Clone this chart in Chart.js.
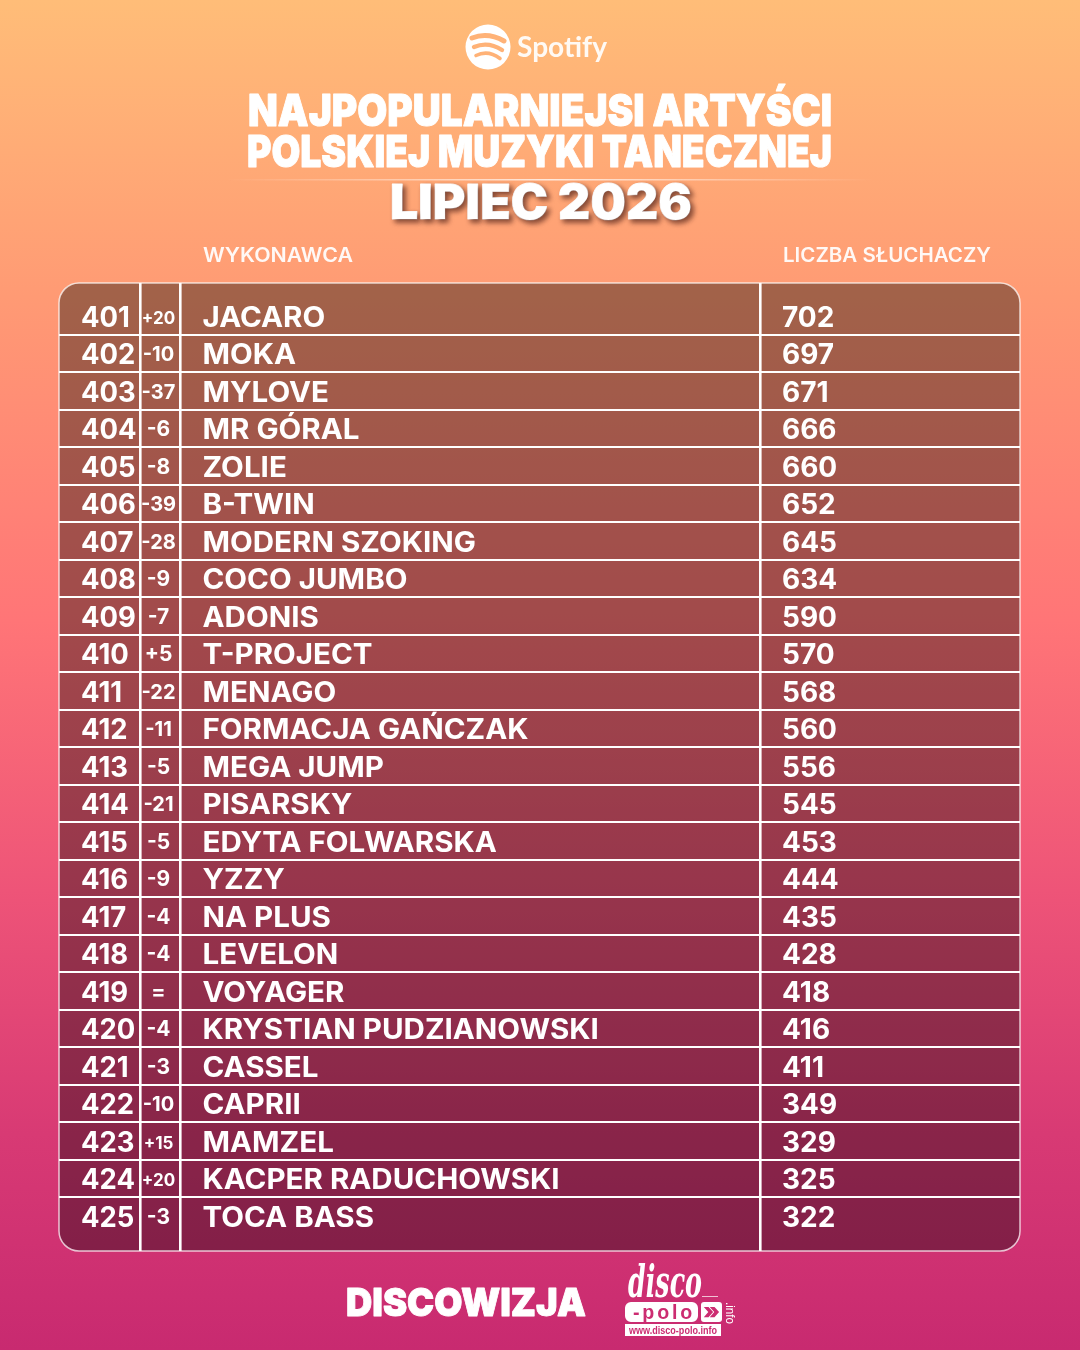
<!DOCTYPE html>
<html lang="pl">
<head>
<meta charset="utf-8">
<title>Najpopularniejsi artyści polskiej muzyki tanecznej</title>
<script src="https://cdn.jsdelivr.net/npm/chart.js@4/dist/chart.umd.min.js"></script>
<style>
  html, body { margin: 0; padding: 0; }
  body {
    width: 1080px; height: 1350px; overflow: hidden;
    background: linear-gradient(180deg, #ffbd78 0%, #ff9a74 22%, #ff7577 46%, #ee5478 66%, #d83a74 84%, #c82a70 100%);
  }
  canvas { display: block; }
</style>
</head>
<body>
<canvas id="chart" width="1080" height="1350"></canvas>
<script>
// ===================================
// DATA
// ===================================
const ranks = [401, 402, 403, 404, 405, 406, 407, 408, 409, 410, 411, 412, 413, 414, 415, 416, 417, 418, 419, 420, 421, 422, 423, 424, 425];
const changes = ['+20', '-10', '-37', '-6', '-8', '-39', '-28', '-9', '-7', '+5', '-22', '-11', '-5', '-21', '-5', '-9', '-4', '-4', '=', '-4', '-3', '-10', '+15', '+20', '-3'];
const artists = ['JACARO', 'MOKA', 'MYLOVE', 'MR GÓRAL', 'ZOLIE', 'B-TWIN', 'MODERN SZOKING', 'COCO JUMBO', 'ADONIS', 'T-PROJECT', 'MENAGO', 'FORMACJA GAŃCZAK', 'MEGA JUMP', 'PISARSKY', 'EDYTA FOLWARSKA', 'YZZY', 'NA PLUS', 'LEVELON', 'VOYAGER', 'KRYSTIAN PUDZIANOWSKI', 'CASSEL', 'CAPRII', 'MAMZEL', 'KACPER RADUCHOWSKI', 'TOCA BASS'];
const listeners = [702, 697, 671, 666, 660, 652, 645, 634, 590, 570, 568, 560, 556, 545, 453, 444, 435, 428, 418, 416, 411, 349, 329, 325, 322];

// ===================================
// LAYOUT
// ===================================
const WHITE = '#ffffff';
const TABLE_FONT = 'Inter, sans-serif';
const COLUMN_RULES = [81, 121, 701];  // x scale values of the vertical rules
const COL_RANK = 22;
const COL_CHANGE = 99.5;
const COL_ARTIST = 143.5;
const COL_LISTENERS = 723;
// table font is wider in the original, its digits less so
const STRETCH_ARTIST = 1.055;
const STRETCH_RANK = 0.98;
const STRETCH_LISTENERS = 1.0;

// HELPER: text squeezed or stretched to an exact width
function fitText(ctx, text, x, baseline, width, font, heavy) {
  ctx.save();
  ctx.font = font;
  ctx.textAlign = 'left';
  ctx.textBaseline = 'alphabetic';
  const k = width / ctx.measureText(text).width;
  ctx.translate(x, baseline);
  ctx.scale(k, 1);
  if (heavy) {
    ctx.strokeStyle = ctx.fillStyle;
    ctx.lineWidth = heavy;
    ctx.lineJoin = 'round';
    ctx.strokeText(text, 0, 0);
  }
  ctx.fillText(text, 0, 0);
  ctx.restore();
}

function stretchedText(ctx, text, x, baseline, font, stretch) {
  ctx.save();
  ctx.font = font;
  ctx.textBaseline = 'alphabetic';
  ctx.translate(x, baseline);
  ctx.scale(stretch, 1);
  ctx.textAlign = 'left';
  ctx.fillText(text, 0, 0);
  ctx.restore();
}

function changeFont(change) {
  if (change.length > 2 && change[0] === '+') return '700 17px ' + TABLE_FONT;
  if (change.length > 2) return '700 20px ' + TABLE_FONT;
  return '700 21px ' + TABLE_FONT;
}

// PLUGIN: table panel behind the grid
const tablePanel = {
  id: 'tablePanel',
  beforeDraw(chart) {
    const { ctx, chartArea: a } = chart;
    ctx.save();
    ctx.beginPath();
    ctx.roundRect(a.left, a.top, a.right - a.left, a.bottom - a.top, 20);
    ctx.fillStyle = 'rgba(0,0,0,0.365)';
    ctx.fill();
    ctx.restore();
  },
  afterDraw(chart) {
    const { ctx, chartArea: a } = chart;
    ctx.save();
    ctx.beginPath();
    ctx.roundRect(a.left, a.top, a.right - a.left, a.bottom - a.top, 20);
    ctx.strokeStyle = 'rgba(255,255,255,0.72)';
    ctx.lineWidth = 1.5;
    ctx.stroke();
    ctx.restore();
  }
};

// PLUGIN: cell texts, placed through the scales
const tableCells = {
  id: 'tableCells',
  afterDatasetsDraw(chart) {
    const { ctx, scales: { x, y } } = chart;
    const font = '700 28px ' + TABLE_FONT;
    ctx.save();
    ctx.fillStyle = WHITE;
    ranks.forEach((rank, i) => {
      const mid = y.getPixelForValue(rank);
      const base = mid + 10.5;
      stretchedText(ctx, String(rank), x.getPixelForValue(COL_RANK), base, font, STRETCH_RANK);
      ctx.font = changeFont(changes[i]);
      ctx.textAlign = 'center';
      ctx.textBaseline = 'alphabetic';
      ctx.fillText(changes[i], x.getPixelForValue(COL_CHANGE), mid + 7.5);
      stretchedText(ctx, artists[i], x.getPixelForValue(COL_ARTIST), base, font, STRETCH_ARTIST);
      stretchedText(ctx, String(listeners[i]), x.getPixelForValue(COL_LISTENERS), base, font, STRETCH_LISTENERS);
    });
    ctx.restore();
  }
};

// PLUGIN: heading, column captions
const heading = {
  id: 'heading',
  afterDraw(chart) {
    const { ctx } = chart;
    ctx.save();

    // Spotify logo
    ctx.fillStyle = WHITE;
    ctx.beginPath();
    ctx.arc(488, 47, 22.5, 0, Math.PI * 2);
    ctx.fill();
    ctx.strokeStyle = '#ffb277';
    ctx.lineCap = 'round';
    [[37, 5, 16], [46, 4.4, 14], [54.5, 3.6, 12]].forEach(([cy, lw, half]) => {
      ctx.lineWidth = lw;
      ctx.beginPath();
      ctx.moveTo(488 - half, cy + 1);
      ctx.quadraticCurveTo(488, cy - 5, 488 + half, cy + 4);
      ctx.stroke();
    });
    ctx.fillStyle = 'rgba(255,255,255,0.92)';
    fitText(ctx, 'Spotify', 517, 57, 90, '700 28px Lato, sans-serif');

    // title
    ctx.fillStyle = WHITE;
    fitText(ctx, 'NAJPOPULARNIEJSI ARTYŚCI', 248, 126, 584, '900 44px Inter, sans-serif', 0.9);
    fitText(ctx, 'POLSKIEJ MUZYKI TANECZNEJ', 247, 167, 585, '900 44px Inter, sans-serif', 0.9);

    const rule = ctx.createLinearGradient(225, 0, 875, 0);
    rule.addColorStop(0, 'rgba(255,255,255,0)');
    rule.addColorStop(0.5, 'rgba(255,255,255,0.75)');
    rule.addColorStop(1, 'rgba(255,255,255,0)');
    ctx.fillStyle = rule;
    ctx.fillRect(225, 179, 650, 1.5);

    ctx.save();
    ctx.shadowColor = 'rgba(90,40,30,0.75)';
    ctx.shadowBlur = 5;
    ctx.shadowOffsetX = 3;
    ctx.shadowOffsetY = 3;
    ctx.fillStyle = WHITE;
    fitText(ctx, 'LIPIEC 2026', 390, 219, 302, '900 48px Inter, sans-serif', 0.9);
    ctx.restore();

    // column captions
    ctx.fillStyle = 'rgba(255,255,255,0.93)';
    fitText(ctx, 'WYKONAWCA', 203, 262, 150, '600 20px Inter, sans-serif');
    fitText(ctx, 'LICZBA SŁUCHACZY', 783, 262, 208, '600 20px Inter, sans-serif');
    ctx.restore();
  }
};

// PLUGIN: footer logos
const footer = {
  id: 'footer',
  afterDraw(chart) {
    const { ctx } = chart;
    ctx.save();
    ctx.fillStyle = WHITE;
    fitText(ctx, 'DISCOWIZJA', 346, 1316, 240, '900 39px Inter, sans-serif', 0.9);

    // disco-polo logo
    const pink = '#cc2c71';
    fitText(ctx, 'disco', 628, 1297, 74, 'italic 700 44px "DejaVu Serif", serif');
    ctx.fillStyle = 'rgba(255,255,255,0.7)';
    ctx.fillRect(702, 1296, 16, 1);
    ctx.fillStyle = WHITE;

    ctx.beginPath();
    ctx.roundRect(625, 1302, 73, 20, 6);
    ctx.roundRect(701, 1302, 21, 20, 3);
    ctx.fill();
    ctx.fillRect(625, 1324, 96, 12);

    ctx.fillStyle = pink;
    ctx.letterSpacing = '3px';
    fitText(ctx, '-polo', 633, 1319, 62, '700 21px "Liberation Sans", sans-serif');
    ctx.letterSpacing = '0px';
    fitText(ctx, '»', 703, 1319, 17, '900 22px Inter, sans-serif');
    fitText(ctx, 'www.disco-polo.info', 629, 1334, 88, '700 10px "Liberation Sans", sans-serif');

    ctx.fillStyle = WHITE;
    ctx.translate(726, 1302);
    ctx.rotate(Math.PI / 2);
    fitText(ctx, '.info', 0, 0, 22, '400 12px "Liberation Sans", sans-serif');
    ctx.restore();
  }
};

// ===================================
// CHART
// ===================================
new Chart(document.getElementById('chart'), {
  type: 'scatter',
  data: {
    datasets: [{
      label: 'Liczba słuchaczy',
      data: ranks.map((rank, i) => ({ x: listeners[i], y: rank })),
      pointRadius: 0,
      showLine: false
    }]
  },
  options: {
    responsive: false,
    animation: false,
    layout: { padding: { left: 59, right: 60, top: 283, bottom: 99 } },
    plugins: { legend: { display: false }, tooltip: { enabled: false } },
    scales: {
      x: {
        type: 'linear',
        min: 0,
        max: 961,
        border: { display: false },
        ticks: { display: false, autoSkip: false },
        grid: { color: WHITE, lineWidth: 2.6, drawTicks: false },
        afterBuildTicks(axis) {
          axis.ticks = COLUMN_RULES.map(value => ({ value }));
        }
      },
      y: {
        type: 'linear',
        reverse: true,
        min: 400.12,
        max: 425.933,
        border: { display: false },
        ticks: { display: false, autoSkip: false },
        grid: { color: WHITE, lineWidth: 2, drawTicks: false },
        afterBuildTicks(axis) {
          axis.ticks = ranks.slice(0, -1).map(rank => ({ value: rank + 0.5 }));
        }
      }
    }
  },
  plugins: [tablePanel, tableCells, heading, footer]
});
</script>
</body>
</html>
